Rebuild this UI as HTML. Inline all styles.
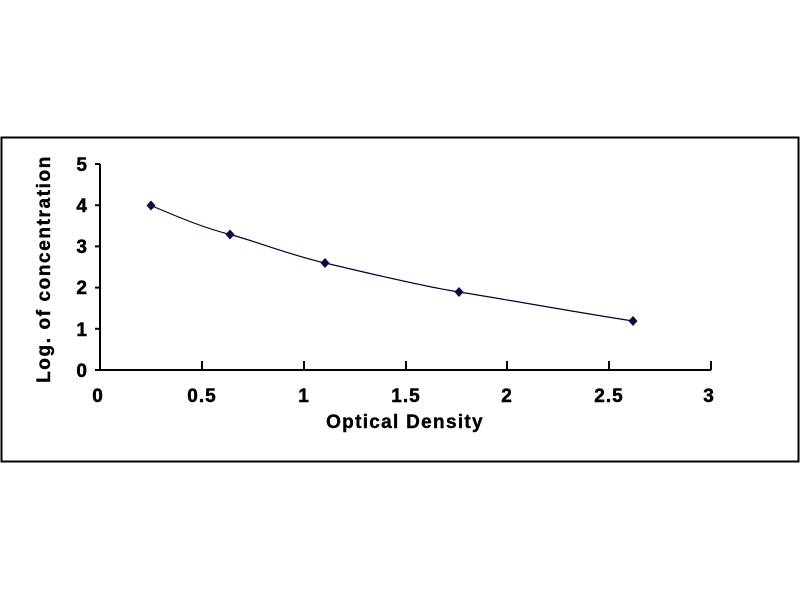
<!DOCTYPE html>
<html><head><style>body{margin:0;background:#fff}svg{display:block}</style></head><body>
<svg width="800" height="600" xmlns="http://www.w3.org/2000/svg" font-family="Liberation Sans, Arial, sans-serif" font-weight="bold">
<rect x="1.5" y="137.5" width="797" height="324" fill="#fff" stroke="#000" stroke-width="2"/>
<g stroke="#000" stroke-width="2" fill="none">
<path d="M100 164V370H711"/>
<path d="M95 164H100M95 205.2H100M95 246.4H100M95 287.6H100M95 328.8H100M95 370H100"/>
<path d="M202 370V361M304 370V361M406 370V361M507 370V361M609 370V361M711 370V361"/>
</g>
<g font-size="19" text-anchor="end" fill="#000" stroke="#000" stroke-width="0.5">
<text x="87" y="171">5</text><text x="87" y="212">4</text><text x="87" y="253">3</text><text x="87" y="294">2</text><text x="87" y="336">1</text><text x="87" y="377">0</text>
</g>
<g font-size="19" text-anchor="middle" fill="#000" stroke="#000" stroke-width="0.5" letter-spacing="1">
<text x="98" y="402">0</text><text x="202" y="402">0.5</text><text x="304" y="402">1</text><text x="406" y="402">1.5</text><text x="507" y="402">2</text><text x="609" y="402">2.5</text><text x="709" y="402">3</text>
</g>
<text x="405" y="428" font-size="19" text-anchor="middle" letter-spacing="1.3" stroke="#000" stroke-width="0.4">Optical Density</text>
<text transform="translate(50,269) rotate(-90)" font-size="19" text-anchor="middle" letter-spacing="1.6" stroke="#000" stroke-width="0.4">Log. of concentration</text>
<path d="M151 205.5 C185 220, 205 228, 230 234.5 S 290 255, 325 263 S 420 286, 459 292 S 580 313, 633 321" stroke="#000033" stroke-width="1.2" fill="none"/>
<g fill="#0a0a40">
<path d="M151 200.5l4.5 5-4.5 5-4.5-5z"/>
<path d="M230 229.5l4.5 5-4.5 5-4.5-5z"/>
<path d="M325 258l4.5 5-4.5 5-4.5-5z"/>
<path d="M459 287l4.5 5-4.5 5-4.5-5z"/>
<path d="M633 316l4.5 5-4.5 5-4.5-5z"/>
</g>
</svg>
</body></html>
